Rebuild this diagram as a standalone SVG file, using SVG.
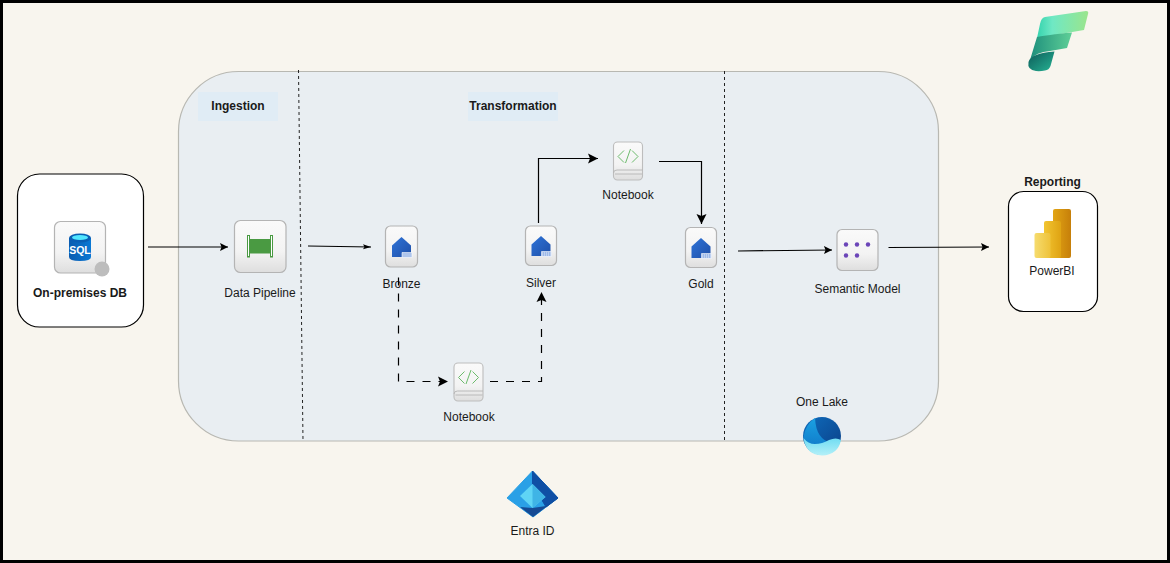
<svg xmlns="http://www.w3.org/2000/svg" width="1170" height="563" viewBox="0 0 1170 563">
<style>
text{font-family:"Liberation Sans",Arial,sans-serif;font-size:12px;fill:#1a1a1a;text-anchor:middle}
.b{font-weight:bold}
.tile{stroke:#b4b4b4;stroke-width:1.2;fill:url(#tileG)}
.c{fill:none;stroke:#000;stroke-width:1.2}
.d{stroke-dasharray:8 8}
.div{fill:none;stroke:#222;stroke-width:1;stroke-dasharray:3 3}
.box{fill:#fff;stroke:#000;stroke-width:1.2}
</style>
<defs>
<linearGradient id="tileG" x1="0" y1="0" x2="0" y2="1"><stop offset="0" stop-color="#fafafa"/><stop offset=".6" stop-color="#f3f3f3"/><stop offset="1" stop-color="#dedede"/></linearGradient>
<linearGradient id="lhG" x1="0" y1="0" x2="1" y2="1"><stop offset="0" stop-color="#2f74d8"/><stop offset="1" stop-color="#1f4fa8"/></linearGradient>
<linearGradient id="fa" x1="0" y1="0" x2="1" y2="0"><stop offset="0" stop-color="#35d3ae"/><stop offset=".3" stop-color="#6fe8c4"/><stop offset="1" stop-color="#9be58c"/></linearGradient>
<linearGradient id="fb" x1="0" y1="0" x2="1" y2="0"><stop offset="0" stop-color="#1d8f7c"/><stop offset="1" stop-color="#5fcf97"/></linearGradient>
<linearGradient id="fc" x1="0" y1="0" x2="1" y2="1"><stop offset="0" stop-color="#0c5a58"/><stop offset="1" stop-color="#27b394"/></linearGradient>
<linearGradient id="bar" x1="0" y1="0" x2="1" y2="0"><stop offset="0" stop-color="#f6dc6e"/><stop offset="1" stop-color="#eec23a"/></linearGradient>
<linearGradient id="bar2" x1="0" y1="0" x2="1" y2="0"><stop offset="0" stop-color="#f2c531"/><stop offset="1" stop-color="#dfa313"/></linearGradient>
<linearGradient id="bar3" x1="0" y1="0" x2="1" y2="0"><stop offset="0" stop-color="#e2a514"/><stop offset="1" stop-color="#c67f0a"/></linearGradient>
<linearGradient id="lakeA" x1="0" y1="0" x2="1" y2="1"><stop offset="0" stop-color="#0f6cbd"/><stop offset="1" stop-color="#0a3f86"/></linearGradient>
<linearGradient id="lakeB" x1="0" y1="0" x2="0" y2="1"><stop offset="0" stop-color="#1ba1e2"/><stop offset="1" stop-color="#0f78c8"/></linearGradient>
<linearGradient id="lakeC" x1="0" y1="0" x2="0" y2="1"><stop offset="0" stop-color="#6fdcf2"/><stop offset="1" stop-color="#b4f0f8"/></linearGradient>
<linearGradient id="sqlG" x1="0" y1="0" x2="1" y2="0"><stop offset="0" stop-color="#0b5cb0"/><stop offset="1" stop-color="#0a78d4"/></linearGradient>
<marker id="arr" markerUnits="userSpaceOnUse" markerWidth="12" markerHeight="12" refX="10" refY="5.500" orient="auto"><path d="M0 .5L10 5.500L0 10.500L2 5.500Z" fill="#000"/></marker>
<marker id="arrM" markerUnits="userSpaceOnUse" markerWidth="10" markerHeight="10" refX="8" refY="4" orient="auto"><path d="M0 0L8 4L0 8L1.500 4Z" fill="#000"/></marker>
<marker id="arrS" markerUnits="userSpaceOnUse" markerWidth="10" markerHeight="8" refX="8" refY="3" orient="auto"><path d="M0 0.5L8 3L0 5.5L1.5 3Z" fill="#000"/></marker>
<g id="lh"><path d="M-9.500 -2.500L0 -11L9.500 -2.500V9H-9.500Z" fill="url(#lhG)"/><path d="M0.500 4.500H10.500V9.500H0.500Z" fill="#9db9e8" stroke="#fff" stroke-width=".6"/><path d="M1 6H10.500M1 8H10.500" stroke="#fff" stroke-width=".7" stroke-dasharray="1 1"/></g>
<g id="nb"><rect x="-14.500" y="-19" width="29" height="38" rx="4" fill="url(#tileG)" stroke="#bdbdbd" stroke-width="1.100"/><path d="M-14.500 12Q-14.500 9 -11 9H14.500M-13 13H14" fill="none" stroke="#b4b4b4" stroke-width=".9"/><path d="M-4 -10.500L-10 -4.500L-4 1.500M4 -10.500L10 -4.500L4 1.500M2.500 -12L-2.500 2" fill="none" stroke="#6cbb6c" stroke-width="1"/></g>
</defs>

<rect x="1.500" y="1.500" width="1167" height="560" fill="#f8f5ee" stroke="#000" stroke-width="3"/>

<g id="container">
<rect x="178.500" y="71.500" width="760" height="369.500" rx="60" fill="#e9eef2" stroke="#b8b8b2" stroke-width="1.200"/>
<path class="div" d="M298.500 70L303 441"/>
<path class="div" d="M724.500 71V441"/>
</g>

<g id="ingestion-label"><rect x="198" y="92" width="80" height="29" fill="#e0ecf5"/><text class="b" x="238" y="110">Ingestion</text></g>
<g id="transformation-label"><rect x="468" y="92" width="90" height="29" fill="#e0ecf5"/><text class="b" x="513" y="110">Transformation</text></g>

<g id="onprem">
<rect class="box" x="17.500" y="174" width="126" height="153" rx="22"/>
<rect class="tile" x="54.500" y="221.500" width="51" height="51.500" rx="6"/>
<path d="M69 238V257Q69 261 80 261Q91 261 91 257V238Z" fill="url(#sqlG)"/>
<ellipse cx="80" cy="238" rx="11" ry="4.500" fill="#0a5fb4"/>
<ellipse cx="80" cy="237.500" rx="8" ry="2.500" fill="#50e6ff"/>
<text x="80" y="253.500" style="font-size:10.500px;font-weight:bold;fill:#fff">SQL</text>
<circle cx="102" cy="269" r="7.500" fill="#bdbdbd"/>
<text class="b" x="80" y="297">On-premises DB</text>
</g>

<g id="pipeline">
<rect class="tile" x="234.500" y="220.500" width="51.500" height="52" rx="6"/>
<rect x="249" y="239" width="22" height="14.500" fill="#4a9a42"/>
<rect x="247.500" y="235.500" width="2" height="21.500" fill="#fff" stroke="#4a9a42"/>
<rect x="270.500" y="235.500" width="2" height="21.500" fill="#fff" stroke="#4a9a42"/>
<text x="260" y="297">Data Pipeline</text>
</g>

<g id="bronze"><rect class="tile" x="385.500" y="226" width="32" height="41" rx="5"/><use href="#lh" x="401.500" y="248"/><text x="401.500" y="288">Bronze</text></g>
<g id="silver"><rect class="tile" x="525.500" y="226" width="31" height="39.500" rx="5"/><use href="#lh" x="541" y="247"/><text x="541" y="287">Silver</text></g>
<g id="gold"><rect class="tile" x="685.500" y="227.500" width="31" height="40" rx="5"/><use href="#lh" x="701" y="249"/><text x="701" y="288">Gold</text></g>
<g id="notebook-top"><use href="#nb" x="628" y="161"/><text x="628" y="199">Notebook</text></g>
<g id="notebook-bottom"><use href="#nb" x="468.500" y="382"/><text x="469" y="421">Notebook</text></g>

<g id="semantic">
<rect class="tile" x="837" y="229.500" width="41" height="41" rx="5"/>
<g fill="#6b45b8"><circle cx="846" cy="244.500" r="2.200"/><circle cx="857" cy="244.500" r="2.200"/><circle cx="868" cy="244.500" r="2.200"/><circle cx="846" cy="255.500" r="2.200"/><circle cx="857" cy="255.500" r="2.200"/></g>
<text x="857.500" y="293">Semantic Model</text>
</g>

<g id="powerbi">
<rect class="box" x="1008.500" y="191.500" width="89" height="120" rx="15"/>
<rect x="1053" y="209" width="18" height="49" rx="2" fill="url(#bar3)"/>
<rect x="1044" y="221" width="17" height="37" rx="2" fill="url(#bar2)"/>
<rect x="1034.500" y="233" width="16" height="25" rx="2" fill="url(#bar)"/>
<text x="1052" y="275">PowerBI</text>
</g>
<text id="reporting" class="b" x="1052.500" y="186">Reporting</text>

<g id="fabric">
<path d="M1045 17L1086 11Q1089 11 1088 14L1084 30L1037 38L1040 24Q1041 18 1045 17Z" fill="url(#fa)"/>
<path d="M1037 37Q1046 35 1072 32.500L1067 48L1050 51Q1036 52 1030 60Z" fill="url(#fb)"/>
<path d="M1028.500 62Q1031 53 1054.500 51.500L1050.500 66Q1049 70 1045 70.500Q1040 71.500 1036 71Q1027 70 1028.500 62Z" fill="url(#fc)"/>
</g>

<g id="onelake">
<circle cx="822" cy="436" r="19" fill="url(#lakeA)"/>
<path d="M815 418Q805 425 803.500 437Q804 446 815 450L832 443Q816 440 815 418Z" fill="url(#lakeB)"/>
<path d="M803.500 438Q808 444 815 444Q822 444 829 440Q836 437 841 440Q838 455 822 455.500Q806 455 803.500 438Z" fill="url(#lakeC)"/>
<text x="822" y="406">One Lake</text>
</g>

<g id="entra">
<path d="M532.500 471L558 498L533 517L507 498Z" fill="#2aa0e6" stroke="#2aa0e6" stroke-width="1" stroke-linejoin="round"/>
<path d="M532.500 471L558 498L546 507L532.500 484Z" fill="#0f4fa5" stroke="#0f4fa5" stroke-width="1" stroke-linejoin="round"/>
<path d="M520 496L532.500 484L545.500 497L532.500 508Z" fill="#5fd4f5"/>
<path d="M532.500 484L545.500 497L532.500 508Z" fill="#3fb4e6"/>
<path d="M520 507L532.500 508L546 506L558 498L533 517Z" fill="#154a94"/>
<text x="532.500" y="535">Entra ID</text>
</g>

<g id="connectors">
<path class="c" marker-end="url(#arrM)" d="M148 247H228"/>
<path class="c" marker-end="url(#arrS)" d="M308 246L371 247"/>
<path class="c" marker-end="url(#arr)" d="M538.500 223V158.500H598"/>
<path class="c" marker-end="url(#arr)" d="M659 161.500H701.500V224"/>
<path class="c" marker-end="url(#arrM)" d="M738 251L832 250"/>
<path class="c" marker-end="url(#arrM)" d="M888.500 247.500L989 247"/>
<path class="c d" marker-end="url(#arr)" d="M398.500 277.500V381.500H448"/>
<path class="c d" marker-end="url(#arr)" d="M490 381.500H541.500V292"/>
</g>
</svg>
